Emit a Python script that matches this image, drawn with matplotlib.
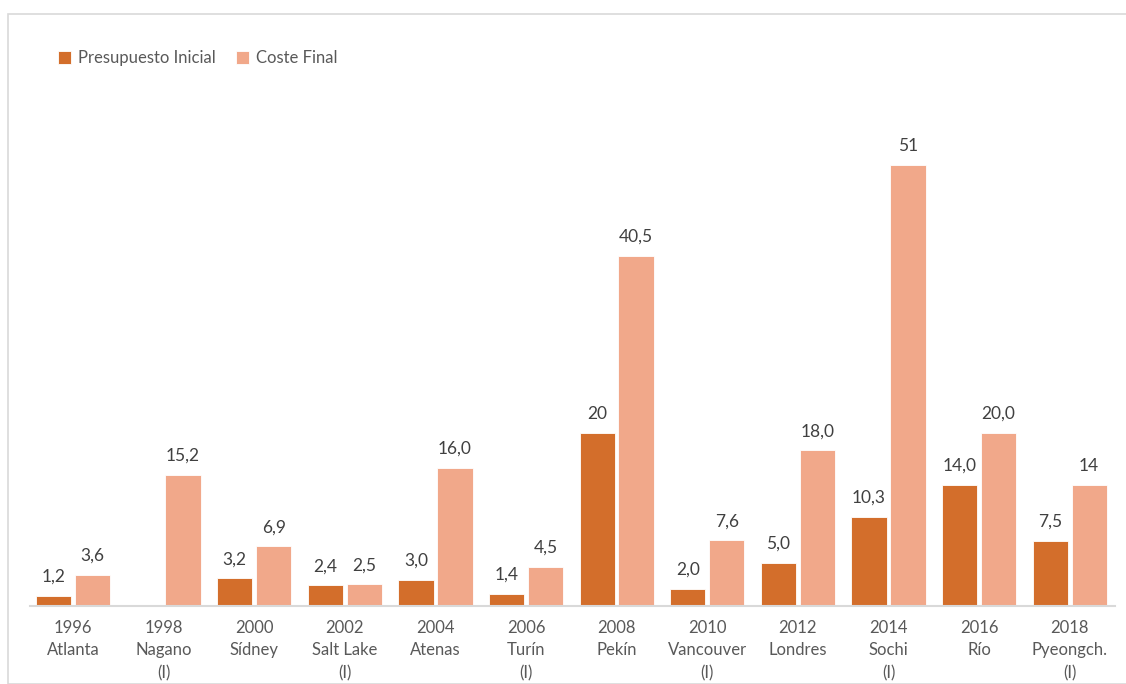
import numpy as np
import matplotlib.pyplot as plt
from matplotlib.patches import Rectangle

years = ["1996", "1998", "2000", "2002", "2004", "2006", "2008", "2010", "2012", "2014", "2016", "2018"]
cities = ["Atlanta", "Nagano\n(I)", "Sídney", "Salt Lake\n(I)", "Atenas", "Turín\n(I)", "Pekín",
          "Vancouver\n(I)", "Londres", "Sochi\n(I)", "Río", "Pyeongch.\n(I)"]
presupuesto = [1.2, np.nan, 3.2, 2.4, 3.0, 1.4, 20, 2.0, 5.0, 10.3, 14.0, 7.5]
coste = [3.6, 15.2, 6.9, 2.5, 16.0, 4.5, 40.5, 7.6, 18.0, 51, 20.0, 14]
lab_pres = ["1,2", "", "3,2", "2,4", "3,0", "1,4", "20", "2,0", "5,0", "10,3", "14,0", "7,5"]
lab_coste = ["3,6", "15,2", "6,9", "2,5", "16,0", "4,5", "40,5", "7,6", "18,0", "51", "20,0", "14"]

c_pres = "#D36E2B"
c_coste = "#F1A88A"
gris = "#595959"

plt.rcParams['font.family'] = ['Lato', 'DejaVu Sans']

fig = plt.figure(figsize=(11.26, 6.84), dpi=100)
fig.patches.append(Rectangle((8/1126., 0), 1.2, (684-14)/684., transform=fig.transFigure,
                             fill=False, edgecolor="#D9D9D9", linewidth=1.2))

ax = fig.add_axes([30/1126., 78/684., 1085/1126., 519/684.])
x = np.arange(len(years))
w = 0.39
b1 = ax.bar(x - 0.215, presupuesto, w, color=c_pres, edgecolor="white", linewidth=0.6,
            label="Presupuesto Inicial")
b2 = ax.bar(x + 0.215, coste, w, color=c_coste, edgecolor="white", linewidth=0.6,
            label="Coste Final")

# etiquetas de valor
for i in range(len(x)):
    if not np.isnan(presupuesto[i]):
        ax.annotate(lab_pres[i], (x[i] - 0.215, presupuesto[i]), xytext=(0, 8),
                    textcoords="offset points", ha="center", va="bottom", fontsize=12.5, color="#404040")
    ax.annotate(lab_coste[i], (x[i] + 0.215, coste[i]), xytext=(0, 8),
                textcoords="offset points", ha="center", va="bottom", fontsize=12.5, color="#404040")

ax.set_xlim(-0.475, 11.5)
ax.set_ylim(0, 60)
ax.set_xticks(x)
ax.set_xticklabels([y + "\n" + c for y, c in zip(years, cities)], fontsize=12, color=gris,
                   linespacing=1.5)
ax.tick_params(axis="x", length=0, pad=10)
ax.set_yticks([])
for s in ["top", "right", "left"]:
    ax.spines[s].set_visible(False)
ax.spines["bottom"].set_color("#D9D9D9")
ax.spines["bottom"].set_linewidth(1.5)

leg = fig.legend(loc="upper left", bbox_to_anchor=(43/1126., 1 - 35/684.), ncol=2, frameon=False,
                 fontsize=12, handlelength=0.8, handleheight=0.8, handletextpad=0.4, columnspacing=1.2)
for t in leg.get_texts():
    t.set_color(gris)

plt.savefig("out.png", dpi=100)
